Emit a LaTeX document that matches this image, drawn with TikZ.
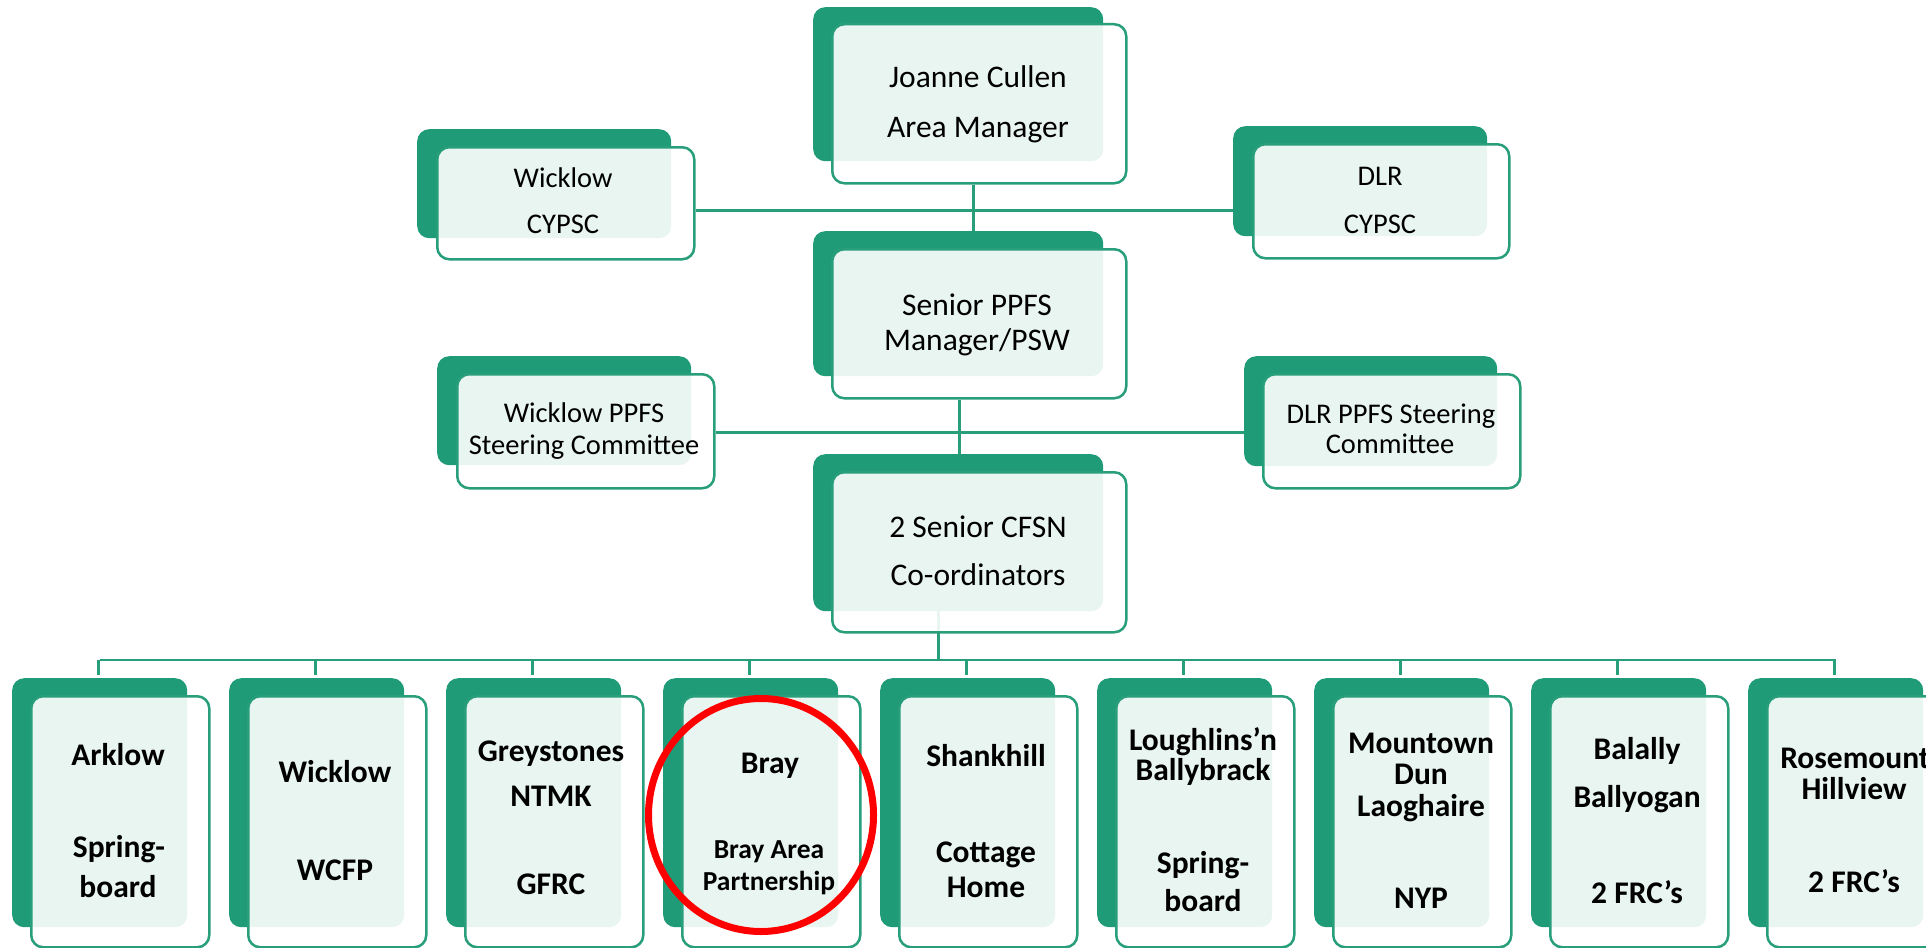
\documentclass[tikz,border=0pt]{standalone}
\usepackage{fontspec}
\setmainfont{Carlito}
\usetikzlibrary{shapes.geometric}
\definecolor{dkgreen}{RGB}{31,155,120}
\definecolor{bdgreen}{RGB}{40,158,122}
\begin{document}
\begin{tikzpicture}[x=1pt,y=-1pt,
  backbox/.style={draw=none, fill=dkgreen, rounded corners=12pt, inner sep=0pt, anchor=north west},
  frontbox/.style={draw=bdgreen, line width=2.5pt, fill=white, fill opacity=0.9, rounded corners=12pt, inner sep=0pt, anchor=north west},
  conn/.style={draw=bdgreen, line width=2.7pt},
  txt/.style={anchor=base, inner sep=0pt, font=\fontsize{31.5}{37}\selectfont},
  sidetxt/.style={anchor=base, inner sep=0pt, font=\fontsize{28.5}{34}\selectfont},
  boldtxt/.style={anchor=base, inner sep=0pt, font=\bfseries\fontsize{31.5}{36}\selectfont},
  smallbold/.style={anchor=base, inner sep=0pt, font=\bfseries\fontsize{27.5}{32}\selectfont},
  ring/.style={ellipse, draw=red, line width=7pt, inner sep=0pt}
]
\path[use as bounding box, fill=white] (0,0) rectangle (1926,947);

% ---------- boxes: back (dark green) ----------
\node[backbox, minimum width=290pt, minimum height=154pt] (topb) at (813,7) {};
\node[backbox, minimum width=290pt, minimum height=145pt] (senb) at (813,231) {};
\node[backbox, minimum width=290pt, minimum height=157pt] (cfsnb) at (813,454) {};
\node[backbox, minimum width=254pt, minimum height=109pt] (wcyb) at (417,129) {};
\node[backbox, minimum width=254pt, minimum height=110pt] (dcyb) at (1233,126) {};
\node[backbox, minimum width=254pt, minimum height=109pt] (wppb) at (437,356) {};
\node[backbox, minimum width=253pt, minimum height=110pt] (dppb) at (1244,356) {};
\foreach \i in {1,...,9}{
  \pgfmathsetmacro\gl{12+217*(\i-1)}
  \node[backbox, minimum width=175pt, minimum height=249pt] (b\i b) at (\gl,678) {};
}

% ---------- connectors ----------
\coordinate (busy) at (0,660);
\draw[conn] ([xshift=-20pt]cfsnb.south) -- ([xshift=-20pt]cfsnb.south |- busy);
\draw[conn] (b1b.north |- busy) -- (b9b.north |- busy);
\foreach \i in {1,...,9}{
  \draw[conn] ([xshift=-1.5pt]b\i b.north |- busy) -- ([xshift=-1.5pt,yshift=3pt]b\i b.north);
}

% ---------- boxes: front ----------
\node[frontbox, minimum width=294pt, minimum height=159pt] (top) at (831,23) {};
\node[frontbox, minimum width=294pt, minimum height=149pt] (sen) at (831,248) {};
\node[frontbox, minimum width=294pt, minimum height=160pt] (cfsn) at (831,471) {};
\node[frontbox, minimum width=257pt, minimum height=112pt] (wcy) at (436,146) {};
\node[frontbox, minimum width=256pt, minimum height=114pt] (dcy) at (1252,143) {};
\node[frontbox, minimum width=257pt, minimum height=114pt] (wpp) at (456,373) {};
\node[frontbox, minimum width=257pt, minimum height=114pt] (dpp) at (1262,373) {};
\foreach \i in {1,...,9}{
  \pgfmathsetmacro\gl{12+217*(\i-1)+18}
  \node[frontbox, minimum width=178pt, minimum height=251pt] (b\i) at (\gl,695) {};
}

% connectors between upper boxes
\draw[conn] ([xshift=-6pt]top.south) -- ([xshift=-6pt]top.south |- senb.north);
\draw[conn] ([yshift=-7pt]wcy.east) -- ([yshift=-7pt]wcy.east -| dcyb.west);
\draw[conn] ([xshift=-20pt]sen.south) -- ([xshift=-20pt]sen.south |- cfsnb.north);
\draw[conn] ([yshift=-1pt]wpp.east) -- ([yshift=-1pt]wpp.east -| dppb.west);

% ---------- texts ----------
\node[txt] (tta) at (978,88) {Joanne Cullen};
\node[txt] (ttb) at (978,137) {Area Manager};
\node[txt] (tsa) at (977,315) {Senior PPFS};
\node[txt] (tsb) at (977,350) {Manager/PSW};
\node[txt] (tca) at (978,537) {2 Senior CFSN};
\node[txt] (tcb) at (978,585) {Co-ordinators};
\node[sidetxt] (twca) at (563,187) {Wicklow};
\node[sidetxt] (twcb) at (563,233) {CYPSC};
\node[sidetxt] (tdca) at (1380,185) {DLR};
\node[sidetxt] (tdcb) at (1380,233) {CYPSC};
\node[sidetxt] (twpa) at (584,422) {Wicklow PPFS};
\node[sidetxt] (twpb) at (584,454) {Steering Committee};
\node[sidetxt] (tdpa) at (1391,423) {DLR PPFS Steering};
\node[sidetxt] (tdpb) at (1390,453) {Committee};

\node[boldtxt] (t1a) at (118,765) {Arklow};
\node[boldtxt] (t1b) at (119,857) {Spring-};
\node[boldtxt] (t1c) at (118,897) {board};
\node[boldtxt] (t2a) at (335,782) {Wicklow};
\node[boldtxt] (t2b) at (335,880) {WCFP};
\node[boldtxt] (t3a) at (551,761) {Greystones};
\node[boldtxt] (t3b) at (551,806) {NTMK};
\node[boldtxt] (t3c) at (551,894) {GFRC};
\node[boldtxt] (t4a) at (770,773) {Bray};
\node[smallbold] (t4b) at (769,858) {Bray Area};
\node[smallbold] (t4c) at (769,890) {Partnership};
\node[boldtxt] (t5a) at (986,766) {Shankhill};
\node[boldtxt] (t5b) at (986,862) {Cottage};
\node[boldtxt] (t5c) at (986,897) {Home};
\node[boldtxt] (t6a) at (1203,750) {Loughlins’n};
\node[boldtxt] (t6b) at (1203,780) {Ballybrack};
\node[boldtxt] (t6c) at (1203,873) {Spring-};
\node[boldtxt] (t6d) at (1203,911) {board};
\node[boldtxt] (t7a) at (1421,753) {Mountown};
\node[boldtxt] (t7b) at (1421,784) {Dun};
\node[boldtxt] (t7c) at (1421,816) {Laoghaire};
\node[boldtxt] (t7d) at (1421,908) {NYP};
\node[boldtxt] (t8a) at (1637,759) {Balally};
\node[boldtxt] (t8b) at (1637,807) {Ballyogan};
\node[boldtxt] (t8c) at (1637,903) {2 FRC’s};
\node[boldtxt] (t9a) at (1855,768) {Rosemount};
\node[boldtxt] (t9b) at (1854,799) {Hillview};
\node[boldtxt] (t9c) at (1854,892) {2 FRC’s};

% ---------- red ring around Bray ----------
\node[ring, minimum width=225pt, minimum height=233pt] (braying) at (761,815) {};
\end{tikzpicture}
\end{document}
